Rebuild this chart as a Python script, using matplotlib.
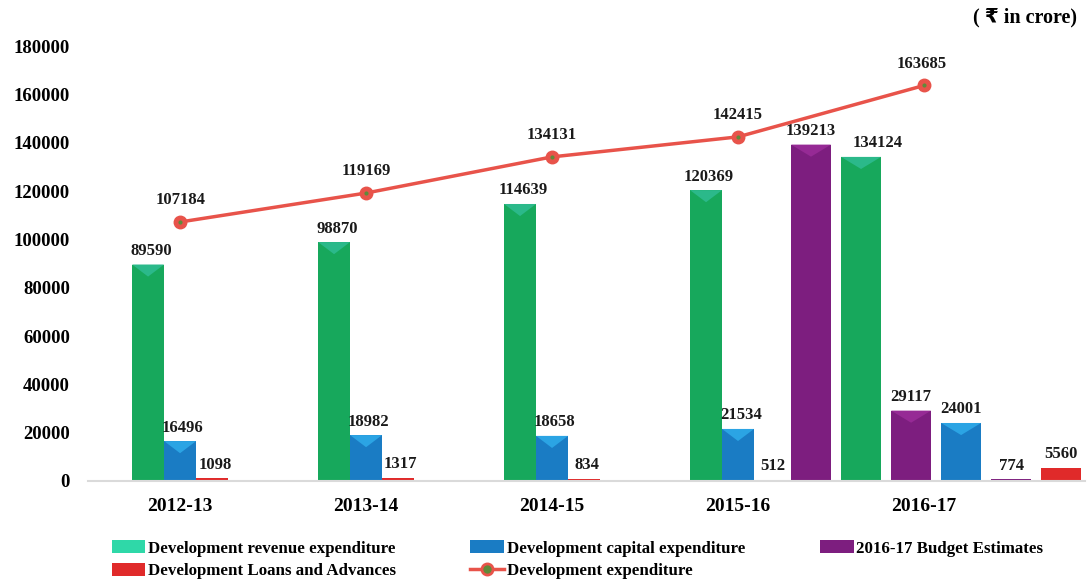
import numpy as np
import matplotlib
matplotlib.use("Agg")
import matplotlib.pyplot as plt
from matplotlib.patches import Patch, Polygon
from matplotlib.lines import Line2D

plt.rcParams['font.family'] = ['Liberation Serif', 'DejaVu Serif']
plt.rcParams['font.weight'] = 'bold'

# Development expenditure, Rs crore
years = ['2012-13', '2013-14', '2014-15', '2015-16', '2016-17']
revenue = [89590, 98870, 114639, 120369, 134124]
capital = [16496, 18982, 18658, 21534, 24001]
loans = [1098, 1317, 834, 512, 5560]
total = [107184, 119169, 134131, 142415, 163685]
# budget estimates for the last year: revenue, capital, loans
budget = [139213, 29117, 774]

c_rev = '#17a85c'
c_cap = '#1a7cc4'
c_loan = '#e02a2a'
c_bud = '#7d1e7f'
c_line = '#e8534a'
# lighter shade for the bevelled bar tops
top_col = {c_rev: '#2bb98a', c_cap: '#2ba4e4', c_bud: '#962a95', c_loan: '#e84040'}

fig = plt.figure(figsize=(10.88, 5.83), dpi=100)
ax = fig.add_axes([0.0809, 0.175, 0.9164, 0.746])

lbl = dict(ha='center', va='bottom', fontsize=12, fontweight='bold', color='#1a1a1a')


def draw_bar(xb, v, width, col, dx=0):
    ax.bar(xb, v, width=width, color=col, edgecolor='none')
    bevel = 5000
    if v > bevel * 1.5:
        ax.add_patch(Polygon([(xb - width / 2, v), (xb + width / 2, v), (xb, v - bevel)],
                             closed=True, facecolor=top_col[col], edgecolor='none'))
    ax.annotate(str(v), (xb, v), xytext=(dx, 4), textcoords='offset points', **lbl)


# first four years: three bars side by side
w = 0.172
x = np.arange(len(years))
for i in range(4):
    for k, (vals, col) in enumerate([(revenue, c_rev), (capital, c_cap), (loans, c_loan)]):
        draw_bar(x[i] + (k - 1) * w, vals[i], w, col, dx=2)

# last year: budget estimate next to each actual
pitch = 0.269
bw = 0.215
last = len(years) - 1
pairs = [(budget[0], c_bud), (revenue[last], c_rev),
         (budget[1], c_bud), (capital[last], c_cap),
         (budget[2], c_bud), (loans[last], c_loan)]
for k, (v, col) in enumerate(pairs):
    draw_bar(x[last] + 0.065 + (k - 2.5) * pitch, v, bw, col, dx=12 if k == 1 else 0)

# total development expenditure line
ax.plot(x, total, color=c_line, lw=2.5, zorder=5)
ax.plot(x, total, 'o', ms=9, mfc=c_line, mec=c_line, zorder=6)
ax.plot(x, total, 'o', ms=3, mfc='#5f8a3a', mec='none', zorder=7)
for i, v in enumerate(total):
    ax.annotate(str(v), (x[i], v), xytext=(-2 if i == last else 0, 10),
                textcoords='offset points', **lbl)

ax.set_ylim(0, 180000)
ax.set_xlim(-0.495, 4.866)
ax.set_yticks(range(0, 180001, 20000))
ax.set_xticks(x)
ax.set_xticklabels(years)
ax.tick_params(axis='y', length=0, pad=13, labelsize=13.5)
ax.tick_params(axis='x', length=0, pad=12, labelsize=14)
for t in ax.get_xticklabels() + ax.get_yticklabels():
    t.set_fontweight('bold')
for s in ['top', 'right', 'left']:
    ax.spines[s].set_visible(False)
ax.spines['bottom'].set_color('#dadada')
ax.spines['bottom'].set_linewidth(1.5)

fig.text(0.99, 0.97, '( ₹ in crore)', ha='right', va='center', fontsize=14.5,
         fontweight='bold', family=['Liberation Serif', 'DejaVu Sans'])

handles = [
    Patch(facecolor='#2fd8a8', edgecolor='none', label='Development revenue expenditure'),
    Patch(facecolor=c_loan, edgecolor='none', label='Development Loans and Advances'),
    Patch(facecolor=c_cap, edgecolor='none', label='Development capital expenditure'),
    Line2D([0], [0], color=c_line, lw=2.5, marker='o', ms=8, mfc='#5f8a3a',
           mec=c_line, mew=2, label='Development expenditure'),
    Patch(facecolor=c_bud, edgecolor='none', label='2016-17 Budget Estimates'),
]
fig.legend(handles=handles, ncol=3, loc='upper left', bbox_to_anchor=(0.0947, 0.088),
           frameon=False, prop={'size': 12.2, 'weight': 'bold'},
           handlelength=2.0, handleheight=0.8, handletextpad=0.15,
           columnspacing=4.4, labelspacing=0.38, borderpad=0)

fig.savefig('out.png', dpi=100)
